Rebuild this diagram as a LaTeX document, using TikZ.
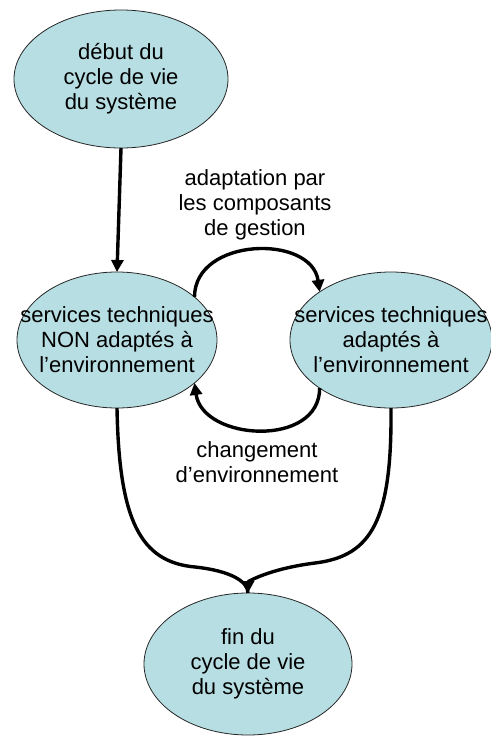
\documentclass[tikz,border=0pt]{standalone}
\usepackage{fontspec}
\setmainfont{Liberation Sans}
\usetikzlibrary{shapes.geometric,arrows.meta}
\definecolor{stateblue}{RGB}{183,222,227}
\begin{document}
\begin{tikzpicture}[x=1pt,y=-1pt,
  state/.style={ellipse,draw=black!85,line width=0.8pt,fill=stateblue,inner sep=0pt,outer sep=0pt},
  txt/.style={align=center,font=\fontsize{22}{25}\selectfont,inner sep=0pt},
  conn/.style={line width=3.4pt,draw=black},
  tip/.style={-{Triangle[length=12pt,width=12pt]}}]
\useasboundingbox (0,0) rectangle (490,736);
\node[state,minimum width=214pt,minimum height=138pt] (T) at (121,79) {};
\node[txt] (Tt) at (T) {début du\\cycle de vie\\du système};
\node[state,minimum width=200pt,minimum height=136pt] (L) at (117,340) {};
\node[txt] (Lt) at (L) {services techniques\\NON adaptés à\\l’environnement};
\node[state,minimum width=202pt,minimum height=136pt] (R) at (391,340) {};
\node[txt] (Rt) at (R) {services techniques\\adaptés à\\l’environnement};
\node[state,minimum width=208pt,minimum height=142pt] (B) at (248,664) {};
\node[txt] (Bt) at (B) {fin du\\cycle de vie\\du système};
\node[txt] (la) at (255,205) {adaptation par\\les composants\\de gestion};
\node[txt] (lc) at (257,462) {changement\\d’environnement};
\draw[conn,tip] (T.south) -- (L.north);
\draw[conn,tip] (L.29) .. controls +(0,-60) and +(-8,-58) .. (R.146);
\draw[conn,tip] (R.214) .. controls +(0,60) and +(8,58) .. (L.331);
\draw[conn] (L.south) .. controls (119,520) and (140,562) .. (195,567) .. controls (232,571) and (248,582) .. (B.north);
\draw[conn,tip] (R.south) .. controls (392,520) and (372,556) .. (315,563) .. controls (268,569) and (248,582) .. (B.north);
\end{tikzpicture}
\end{document}
